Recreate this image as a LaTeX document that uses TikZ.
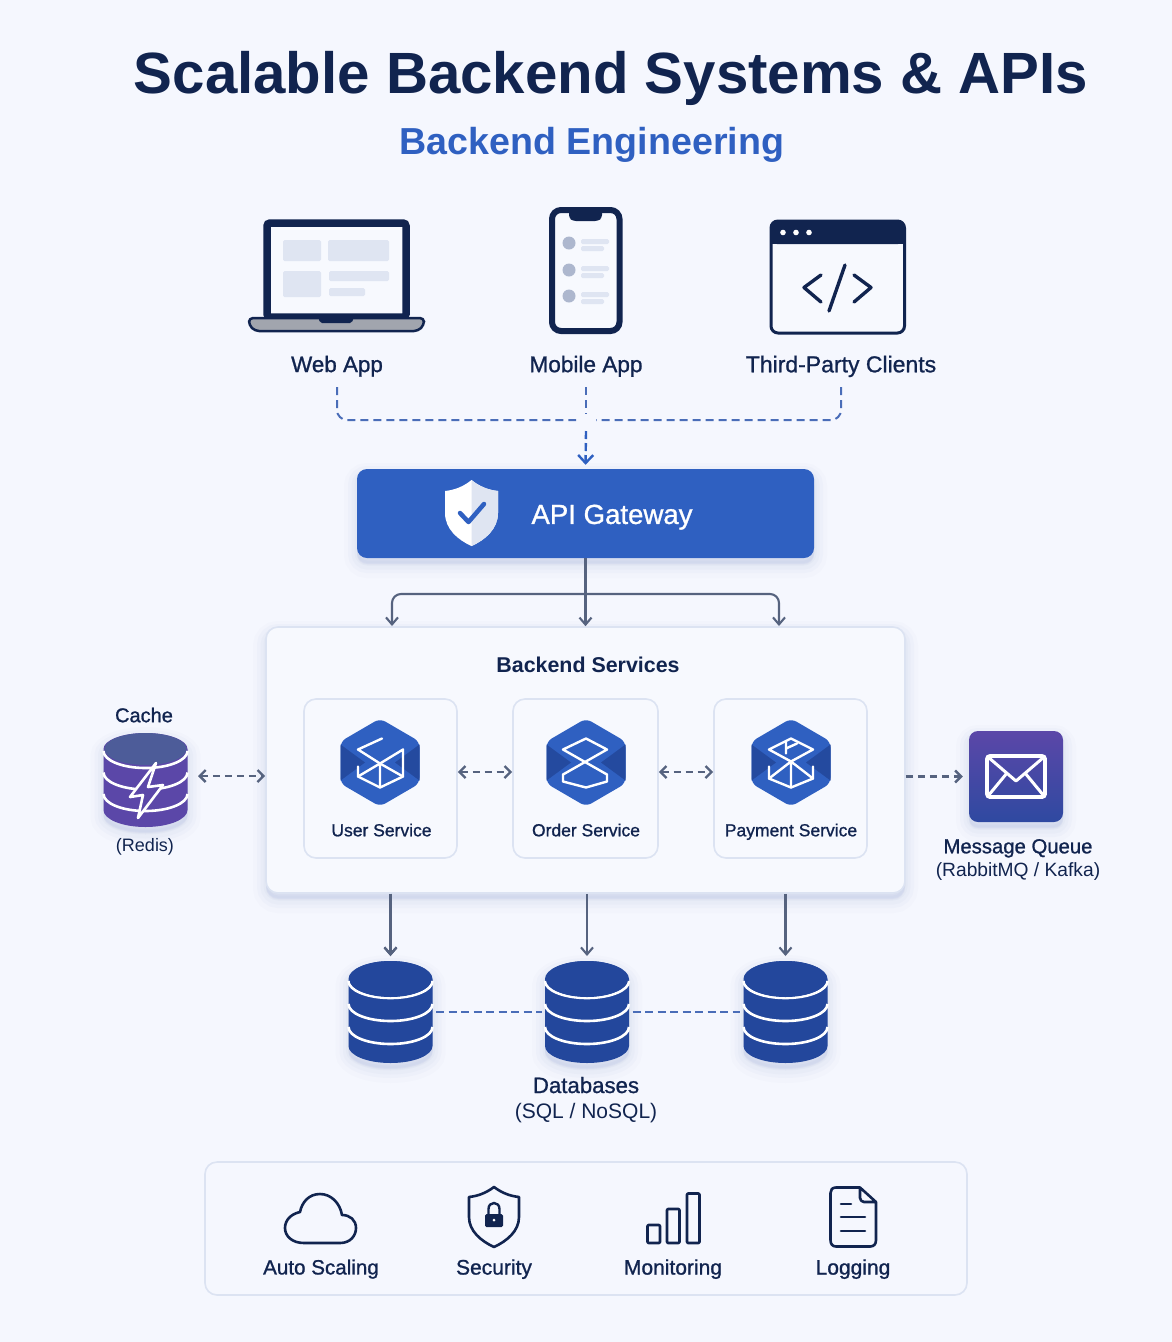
\documentclass[tikz,border=0pt]{standalone}
\usepackage{fontspec}
\setmainfont{Liberation Sans}
\newfontfamily\medfont[FakeBold=1]{Liberation Sans}
\usetikzlibrary{positioning,arrows.meta,shadows,calc}
\definecolor{pagetone}{HTML}{F5F7FE}
\definecolor{panelfill}{HTML}{F7F9FE}
\definecolor{edgetone}{HTML}{DCE3F2}
\definecolor{ink}{HTML}{11244F}
\definecolor{bluemain}{HTML}{2F60C1}
\definecolor{bluedark}{HTML}{244A9F}
\definecolor{dbblue}{HTML}{23479C}
\definecolor{dashblue}{HTML}{4A6DB8}
\definecolor{linkgray}{HTML}{56637F}
\definecolor{paletone}{HTML}{DFE5F2}
\definecolor{lilac}{HTML}{5B47A8}
\definecolor{shadowtone}{HTML}{6F86BE}
\tikzset{
  softshadow/.style={
    general shadow={shadow yshift=-7pt,fill=shadowtone,draw=shadowtone,line width=26pt,opacity=.02},
    general shadow={shadow yshift=-6pt,fill=shadowtone,draw=shadowtone,line width=18pt,opacity=.03},
    general shadow={shadow yshift=-6pt,fill=shadowtone,draw=shadowtone,line width=11pt,opacity=.035},
    general shadow={shadow yshift=-5pt,fill=shadowtone,draw=shadowtone,line width=5pt,opacity=.04}},
  capbox/.style={inner sep=0pt,text height=#1*.72pt,text depth=0pt},
  lbl/.style={font=\medfont\fontsize{#1}{#1}\selectfont,text=ink,capbox=#1},
  plainlbl/.style={font=\fontsize{#1}{#1}\selectfont,text=ink,capbox=#1},
  boldlbl/.style={font=\bfseries\fontsize{#1}{#1}\selectfont,text=ink,capbox=#1},
  iconbox/.style={minimum width=#1,inner sep=0pt,outer sep=0pt},
  panelbox/.style={draw=edgetone,line width=1.6pt,fill=panelfill,rounded corners=12pt,inner sep=0pt},
  dashlink/.style={draw=dashblue,line width=2pt,dash pattern=on 8pt off 5pt},
  graydash/.style={draw=linkgray,line width=2.4pt,dash pattern=on 7pt off 5pt,{Straight Barb[length=6pt,width=12pt]}-{Straight Barb[length=6pt,width=12pt]}},
  rightdash/.style={draw=linkgray,line width=2.4pt,dash pattern=on 7pt off 5pt,-{Straight Barb[length=6pt,width=12pt]}},
  feedlink/.style={draw=linkgray,line width=2.1pt,-{Straight Barb[length=7pt,width=12pt]}},
  iconline/.style={draw=ink,line width=2.6pt,line join=round,line cap=round},
  cubeline/.style={draw=white,line width=2.4pt,line join=round,line cap=round},
  hexicon/.pic={
    \fill[bluemain,rounded corners=6pt] (0,-44) -- (39.5,-21) -- (39.5,21) -- (0,44) -- (-39.5,21) -- (-39.5,-21) -- cycle;
    \fill[bluedark] (-39.5,-18) -- (-15,0) -- (-39.5,18) -- cycle;
    \fill[bluedark] (39.5,-18) -- (15,0) -- (39.5,18) -- cycle;
  }
}
% stack of discs: node, body, top, top y, top radius, band step, base y
\newcommand{\drawstack}[7]{
  \begin{scope}[shift={(#1)}]
    \fill[#2,softshadow] (-42,#4) -- (-42,#7) arc[start angle=180,end angle=360,x radius=42pt,y radius=17pt] -- (42,#4) arc[start angle=0,end angle=180,x radius=42pt,y radius=#5 pt] -- cycle;
    \foreach \k in {0,1,2}
      \draw[white,line width=2.6pt] (-42,{#4+2+\k*#6}) arc[start angle=180,end angle=360,x radius=42pt,y radius=17pt];
    \fill[#3] (0,#4) ellipse[x radius=41pt,y radius=#5 pt];
  \end{scope}
}
\begin{document}
\begin{tikzpicture}[x=1pt,y=-1pt]
  \fill[pagetone] (0,0) rectangle (1172,1342);
  \useasboundingbox (0,0) rectangle (1172,1342);

  % heading
  \node[boldlbl=58.2] (heading) at (611,72.5) {Scalable Backend Systems \& APIs};
  \node[font=\bfseries\fontsize{37.6}{37.6}\selectfont,text=bluemain,capbox=37.6] (subheading) at (592,141) {Backend Engineering};

  % clients
  \node[iconbox=177pt,minimum height=112pt] (laptop) at (336,275) {};
  \draw[ink,line width=7.5pt,rounded corners=3pt,fill=panelfill] (267,223) rectangle (406,317);
  \foreach \xa/\ya/\xb/\yb in {283/240/321/261,328/240/389/261,283/271/321/297,329/271/389/281,329/288/365/296}
    \fill[paletone,rounded corners=1.5pt] (\xa,\ya) rectangle (\xb,\yb);
  \draw[ink,line width=2.5pt,fill=gray!60!ink!55,rounded corners=4pt,line join=round] (249,318) -- (424,318) -- (424,325) -- (418,331) -- (255,331) -- (249,325) -- cycle;
  \fill[ink,rounded corners=2pt] (318,316) -- (354,316) -- (352,323) -- (320,323) -- cycle;
  \node[lbl=22.4] (weblabel) at (337,364) {Web App};

  \node[iconbox=74pt,minimum height=127pt] (phone) at (586,270.5) {};
  \draw[ink,line width=6pt,rounded corners=9pt,fill=panelfill] (552,210) rectangle (619.5,331);
  \fill[ink,rounded corners=3pt] (569,209) -- (602,209) -- (602,218) -- (598,221) -- (573,221) -- (569,218) -- cycle;
  \foreach \rowy in {243,270,296} {
    \fill[gray!40!bluedark!45] (569,\rowy) circle (6.5);
    \fill[paletone,rounded corners=1.5pt] (581,{\rowy-4}) rectangle (609,{\rowy+1});
    \fill[paletone,rounded corners=1.5pt] (581,{\rowy+3}) rectangle (604,{\rowy+8});
  }
  \node[lbl=22.6] (mobilelabel) at (586,364) {Mobile App};

  \node[iconbox=137pt,minimum height=115pt] (webwindow) at (837.5,277) {};
  \draw[ink,line width=3pt,rounded corners=7pt,fill=panelfill] (771,221) rectangle (904.5,333);
  \fill[ink,rounded corners=7pt] (770,220) -- (905,220) -- (905,244) -- (770,244) -- cycle;
  \fill[ink] (770,232) rectangle (905,244);
  \foreach \dotx in {783,796,809}
    \fill[white] (\dotx,232.5) circle (2.8);
  \draw[iconline,line width=3.4pt] (821,275) -- (804,287.5) -- (821,302);
  \draw[iconline,line width=3.4pt] (854,275) -- (871,287.5) -- (854,302);
  \draw[iconline,line width=3.4pt] (845,265) -- (829,311);
  \node[lbl=23] (thirdlabel) at (841,364) {Third-Party Clients};

  % client links
  \coordinate (webdrop) at (337,387);
  \coordinate (mobiledrop) at (586,387);
  \coordinate (thirddrop) at (841,387);
  \coordinate (hubleft) at (576,420);
  \coordinate (hubright) at (596,420);
  \coordinate (hubtop) at (586,414);
  \coordinate (hubdown) at (586,431);
  \draw[dashlink,rounded corners=10pt] (webdrop) |- (hubleft);
  \draw[dashlink,rounded corners=10pt] (thirddrop) |- (hubright);
  \draw[dashlink] (mobiledrop) -- (hubtop);

  % gateway
  \node[fill=bluemain,rounded corners=10pt,minimum width=457pt,minimum height=89pt,inner sep=0pt,softshadow] (gateway) at (585.5,513.5) {};
  \node[font=\medfont\fontsize{27.6}{27.6}\selectfont,text=white,capbox=27.6] (gatewaylabel) at (612,514) {API Gateway};
  \fill[white] (471.5,480) .. controls (480,487) and (489,490) .. (498,491) -- (498,513) .. controls (498,529) and (485,540) .. (471.5,546) .. controls (458,540) and (445,529) .. (445,513) -- (445,491) .. controls (454,490) and (463,487) .. (471.5,480) -- cycle;
  \fill[paletone] (471.5,480) .. controls (480,487) and (489,490) .. (498,491) -- (498,513) .. controls (498,529) and (485,540) .. (471.5,546) -- cycle;
  \draw[bluemain,line width=4.5pt,line cap=round,line join=round] (460,513) -- (468.5,522) -- (484,504);
  \draw[draw=bluemain,line width=2.4pt,dash pattern=on 8pt off 4pt,-{Straight Barb[length=8pt,width=15pt]},shorten >=4pt] (hubdown) -- (gateway.north);

  % backend panel
  \node[panelbox,softshadow,minimum width=639pt,minimum height=266pt] (backend) at (585.5,760) {};
  \node[boldlbl=21.4] (backendlabel) at (588,665) {Backend Services};
  \coordinate (splitpoint) at (585.5,594);
  \coordinate (dropleft) at (392,626);
  \coordinate (dropright) at (779,626);
  \draw[feedlink] (gateway.south) -- (backend.north);
  \draw[feedlink,rounded corners=9pt] (splitpoint) -| (dropleft);
  \draw[feedlink,rounded corners=9pt] (splitpoint) -| (dropright);

  % services
  \node[panelbox,minimum width=153pt,minimum height=159pt] (usercard) at (380.5,778.5) {};
  \node[panelbox,minimum width=145pt,minimum height=159pt] (ordercard) at (585.5,778.5) {};
  \node[panelbox,minimum width=153pt,minimum height=159pt] (paymentcard) at (790.5,778.5) {};
  \pic at (380,762.5) {hexicon};
  \pic at (586,762.5) {hexicon};
  \pic at (791,762.5) {hexicon};
  \begin{scope}[shift={(380,762.5)}]
    \draw[cubeline] (2,-24) -- (-22,-13) -- (0,1) -- (23,-13) -- (23,14) -- (0,25) -- (-22,14) -- (-22,4);
    \draw[cubeline] (-22,14) -- (0,1) -- (0,25);
    \draw[cubeline] (0,1) -- (23,14);
  \end{scope}
  \begin{scope}[shift={(586,762.5)}]
    \draw[cubeline] (0,-24) -- (21,-13) -- (-23,12) -- (-23,19) -- (0,25) -- (21,19) -- (21,12) -- (-23,-13) -- cycle;
  \end{scope}
  \begin{scope}[shift={(791,762.5)}]
    \draw[cubeline] (0,-24) -- (22,-13) -- (0,-1) -- (-22,-13) -- cycle;
    \draw[cubeline] (-5,-20) -- (-5,-9) (6,-19) -- (-5,-14);
    \draw[cubeline] (-22,4) -- (-22,16) -- (0,25) -- (22,16) -- (22,4);
    \draw[cubeline] (-22,16) -- (0,-1) -- (22,16) (0,-1) -- (0,25);
  \end{scope}
  \node[lbl=17.5] (userlabel) at (381.5,830) {User Service};
  \node[lbl=17.5] (orderlabel) at (586,830) {Order Service};
  \node[lbl=17.5] (paymentlabel) at (791,830) {Payment Service};
  \draw[graydash] ([yshift=6.5pt]usercard.east) -- ([yshift=6.5pt]ordercard.west);
  \draw[graydash] ([yshift=6.5pt]ordercard.east) -- ([yshift=6.5pt]paymentcard.west);

  % cache
  \node[iconbox=85pt,minimum height=94pt] (cache) at (145.5,779) {};
  \drawstack{cache}{lilac}{lilac!75!teal!85!gray}{-30}{16}{21.5}{31}
  \draw[white,fill=lilac,line width=2.6pt,line join=round] (156,763) -- (130,797) -- (143,795) -- (138,818) -- (163,785) -- (148,787) -- cycle;
  \node[lbl=20] (cachelabel) at (144,715) {Cache};
  \node[plainlbl=18] (redislabel) at (145,845) {(Redis)};
  \draw[graydash,shorten <=10pt] ([yshift=3pt]cache.east) -- ([yshift=3pt]cache.east -| backend.west);

  % message queue
  \node[top color=lilac,bottom color=bluedark!80!lilac,rounded corners=9pt,minimum width=94pt,minimum height=91pt,inner sep=0pt,softshadow] (queue) at (1016,776.5) {};
  \draw[white,line width=3.8pt,rounded corners=3pt] (987,756) rectangle (1045,797);
  \draw[white,line width=3pt,line join=round] (988,757) -- (1016,781) -- (1044,757);
  \draw[white,line width=3pt] (988,796) -- (1007,773) (1044,796) -- (1025,773);
  \draw[rightdash,shorten >=6pt] (backend.east |- queue) -- (queue.west);
  \node[lbl=20.3] (queuelabel) at (1018,846) {Message Queue};
  \node[plainlbl=19.2] (brokerlabel) at (1018,870) {(RabbitMQ / Kafka)};

  % databases
  \node[iconbox=85pt,minimum height=104pt] (dbone) at (390.5,1012) {};
  \node[iconbox=85pt,minimum height=104pt] (dbtwo) at (587,1012) {};
  \node[iconbox=85pt,minimum height=104pt] (dbthree) at (785.5,1012) {};
  \foreach \dbname in {dbone,dbtwo,dbthree}
    \drawstack{\dbname}{dbblue}{dbblue}{-33}{18}{23}{34}
  \draw[feedlink,shorten >=4pt] (backend.south -| dbone) -- (dbone.north);
  \draw[feedlink,shorten >=4pt] (backend.south -| dbtwo) -- (dbtwo.north);
  \draw[feedlink,shorten >=4pt] (backend.south -| dbthree) -- (dbthree.north);
  \draw[dashlink,line width=2.6pt,dash pattern=on 8pt off 4.5pt,shorten <=3pt,shorten >=3pt] (dbone) -- (dbtwo);
  \draw[dashlink,line width=2.6pt,dash pattern=on 8pt off 4.5pt,shorten <=3pt,shorten >=3pt] (dbtwo) -- (dbthree);
  \node[lbl=22.2] (dblabel) at (586,1085) {Databases};
  \node[plainlbl=21] (dbkinds) at (586,1111) {(SQL / NoSQL)};

  % concerns strip
  \node[panelbox,minimum width=762pt,minimum height=133pt,fill=pagetone] (concerns) at (586,1228.5) {};
  \draw[iconline] (304,1243) -- (340,1243) .. controls (351,1243) and (356,1235) .. (356,1228) .. controls (356,1220) and (350,1215) .. (342,1215) .. controls (340,1203) and (331,1194) .. (320,1194) .. controls (309,1194) and (302,1202) .. (300,1212) .. controls (291,1214) and (285,1220) .. (285,1228) .. controls (285,1236) and (292,1243) .. (304,1243) -- cycle;
  \node[lbl=20.6] (scalinglabel) at (321,1267) {Auto Scaling};
  \draw[iconline] (494,1187) .. controls (502,1193) and (510,1196) .. (519,1197) -- (519,1217) .. controls (519,1231) and (507,1241) .. (494,1247) .. controls (481,1241) and (469,1231) .. (469,1217) -- (469,1197) .. controls (478,1196) and (486,1193) .. (494,1187) -- cycle;
  \fill[ink,rounded corners=1.5pt] (485,1214) rectangle (503,1227);
  \draw[ink,line width=2.4pt] (488.5,1214) -- (488.5,1209) .. controls (488.5,1201) and (499.5,1201) .. (499.5,1209) -- (499.5,1214);
  \fill[white] (494,1220) circle (1.5);
  \node[lbl=21] (securitylabel) at (494,1267) {Security};
  \draw[iconline,rounded corners=1pt] (647.5,1225) rectangle (660,1243);
  \draw[iconline,rounded corners=1pt] (667,1209) rectangle (679.5,1243);
  \draw[iconline,rounded corners=1pt] (687,1193.5) rectangle (699.5,1243);
  \node[lbl=21] (monitorlabel) at (673,1267) {Monitoring};
  \draw[iconline] (860,1187.5) -- (836,1187.5) .. controls (832,1187.5) and (830.5,1190) .. (830.5,1193) -- (830.5,1240) .. controls (830.5,1244) and (832.5,1246.5) .. (836,1246.5) -- (870,1246.5) .. controls (874,1246.5) and (876,1244) .. (876,1240) -- (876,1202) -- (860,1187.5) -- (860,1198) .. controls (860,1200) and (862,1202) .. (864,1202) -- (876,1202);
  \draw[iconline] (841,1204) -- (851,1204) (841,1217) -- (865,1217) (841,1231) -- (865,1231);
  \node[lbl=21] (logginglabel) at (853,1267) {Logging};
\end{tikzpicture}
\end{document}
